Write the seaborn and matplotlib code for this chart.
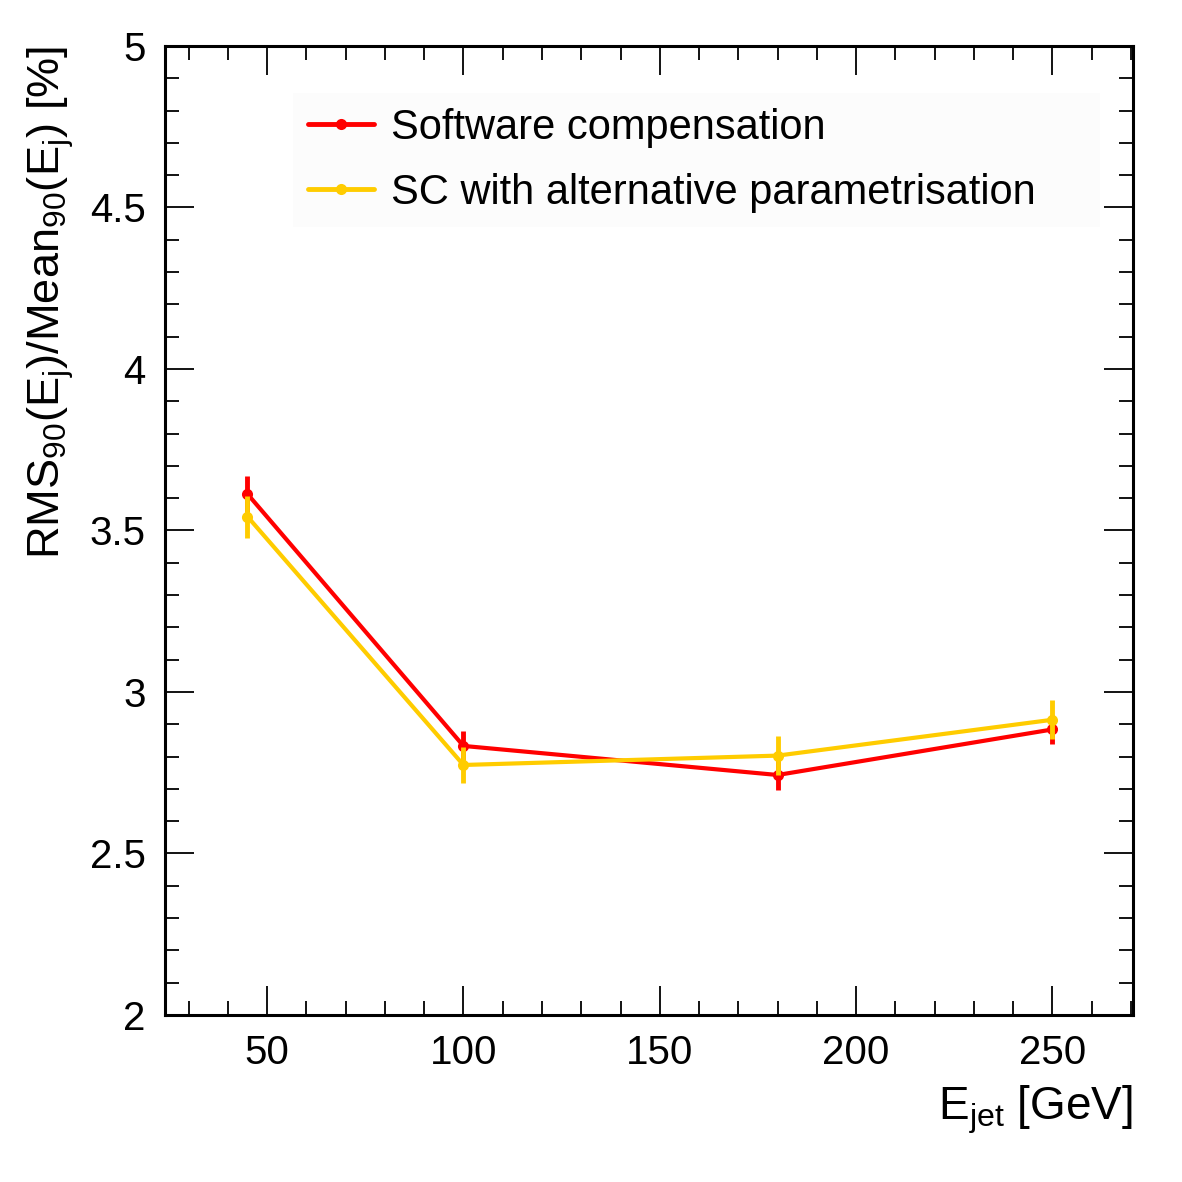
import numpy as np
import seaborn as sns
import matplotlib.pyplot as plt
from matplotlib.ticker import MultipleLocator

sns.set_style("ticks")
plt.rcParams['font.family'] = ['Liberation Sans', 'DejaVu Sans']
plt.rcParams['mathtext.fontset'] = 'custom'
plt.rcParams['mathtext.rm'] = 'Liberation Sans'
plt.rcParams['mathtext.it'] = 'Liberation Sans'
for chave in ['text.color', 'axes.labelcolor', 'xtick.color', 'ytick.color', 'axes.edgecolor']:
    plt.rcParams[chave] = 'black'

# dados
energia = [45, 100, 180, 250]
sc_valores = [3.613, 2.833, 2.743, 2.884]
sc_erros = [0.055, 0.045, 0.045, 0.045]
alt_valores = [3.543, 2.774, 2.803, 2.914]
alt_erros = [0.065, 0.055, 0.06, 0.06]
rotulos = ["Software compensation", "SC with alternative parametrisation"]
cores = ["#ff0000", "#ffcc00"]

fig = plt.figure(figsize=(11.82, 11.82), dpi=100)
ax = fig.add_axes([0.1396, 0.1413, 0.8189, 0.8198])

for valores, erros, rotulo, cor in zip([sc_valores, alt_valores], [sc_erros, alt_erros], rotulos, cores):
    ax.errorbar(energia, valores, yerr=erros, fmt="none", ecolor=cor, elinewidth=3.5, capsize=0)
    sns.lineplot(x=energia, y=valores, ax=ax, color=cor, linewidth=3, marker="o",
                 markersize=8, markeredgewidth=0, label=rotulo)

ax.set_xlim(24, 270.5)
ax.set_ylim(2, 5)
ax.xaxis.set_major_locator(MultipleLocator(50))
ax.xaxis.set_minor_locator(MultipleLocator(10))
ax.yaxis.set_minor_locator(MultipleLocator(0.1))
ax.set_yticks([2, 2.5, 3, 3.5, 4, 4.5, 5])
ax.set_yticklabels(["2", "2.5", "3", "3.5", "4", "4.5", "5"])
ax.tick_params(which="both", direction="in", top=True, right=True, width=1.3, labelsize=29, pad=14)
ax.tick_params(which="major", length=21)
ax.tick_params(which="minor", length=10)
for s in ax.spines.values():
    s.set_linewidth(2.2)

ax.set_xlabel(r"E$_{\mathrm{jet}}$ [GeV]", fontsize=33, loc="right", labelpad=8)
ax.set_ylabel(r"RMS$_{90}$(E$_{\mathrm{j}}$)/Mean$_{90}$(E$_{\mathrm{j}}$) [%]", fontsize=32.5, loc="top", labelpad=10)

leg = ax.legend(loc="upper left", mode="expand",
                bbox_to_anchor=(293 / 1182, 1 - 217 / 1182, 807 / 1182, 124 / 1182),
                bbox_transform=fig.transFigure, fontsize=30, frameon=True,
                facecolor="#fcfcfc", edgecolor="none", framealpha=1, fancybox=False,
                handlelength=1.6, handletextpad=0.4, labelspacing=0.6, borderpad=0.35,
                borderaxespad=0)
for linha in leg.get_lines():
    linha.set_linewidth(3.5)

fig.savefig("out.png", dpi=100)
